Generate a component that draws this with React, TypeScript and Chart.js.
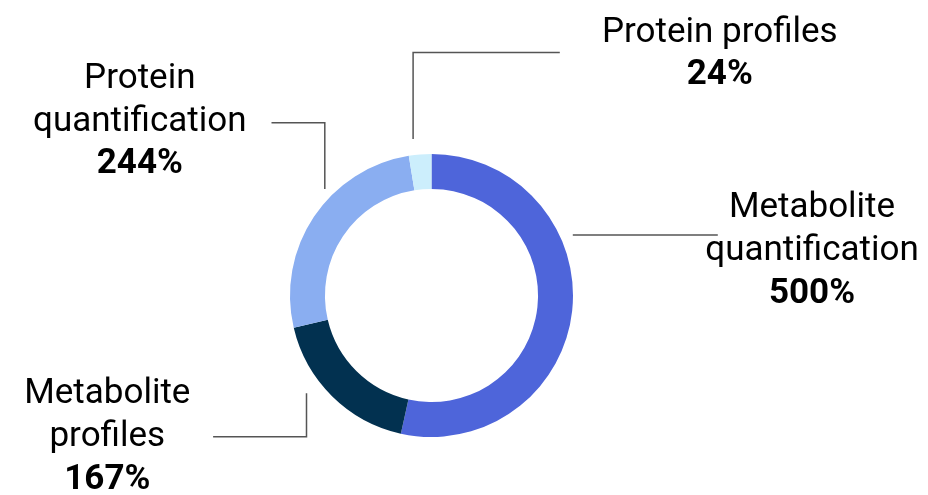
import React, { useEffect, useRef } from "react";
import { Chart, registerables } from "chart.js";

Chart.register(...registerables);

// Segment data
const categories = [
  "Metabolite quantification",
  "Metabolite profiles",
  "Protein quantification",
  "Protein profiles",
];
const values = [500, 167, 244, 24];
const colors = ["#4E65DA", "#023150", "#8AAEF1", "#CCEEFC"];

// Label text lines per segment (last line is the bold value)
const labelLines = [
  ["Metabolite", "quantification"],
  ["Metabolite", "profiles"],
  ["Protein", "quantification"],
  ["Protein profiles"],
];

// Leader line paths and label anchors, as offsets from the ring centre
const leaderPaths: number[][][] = [
  [[141.3, -60.5], [286.3, -60.5]],
  [[-125, 97.8], [-125, 141.2], [-218.4, 141.2]],
  [[-106.7, -106.5], [-106.7, -172.8], [-160, -172.8]],
  [[-18.4, -156.5], [-18.4, -243], [128.3, -243]],
];
// [centre x offset, first baseline y offset]
const labelAnchors: number[][] = [
  [380.5, -78.3],
  [-324.2, 107.8],
  [-291.7, -207.5],
  [288.3, -253.8],
];
const LINE_HEIGHT = 42.7;
const FONT_SIZE = 35;

const leaderLabels = {
  id: "leaderLabels",
  afterDraw(chart: any) {
    const arc = chart.getDatasetMeta(0).data[0];
    if (!arc) return;
    const cx = arc.x;
    const cy = arc.y;
    const ctx = chart.ctx;
    ctx.save();
    ctx.strokeStyle = "#555555";
    ctx.lineWidth = 1.5;
    leaderPaths.forEach((path) => {
      ctx.beginPath();
      path.forEach(([dx, dy], i) => {
        if (i === 0) ctx.moveTo(cx + dx, cy + dy);
        else ctx.lineTo(cx + dx, cy + dy);
      });
      ctx.stroke();
    });
    ctx.fillStyle = "#000000";
    ctx.textAlign = "center";
    ctx.textBaseline = "alphabetic";
    labelLines.forEach((lines, i) => {
      const [ax, ay] = labelAnchors[i];
      const x = cx + ax;
      ctx.font = `400 ${FONT_SIZE}px Roboto`;
      lines.forEach((t, j) => {
        ctx.fillText(t, x, cy + ay + j * LINE_HEIGHT);
      });
      ctx.font = `700 ${FONT_SIZE}px Roboto`;
      ctx.fillText(`${values[i]}%`, x, cy + ay + lines.length * LINE_HEIGHT);
    });
    ctx.restore();
  },
};

export default function App() {
  const canvasRef = useRef<HTMLCanvasElement | null>(null);

  useEffect(() => {
    if (!canvasRef.current) return;
    const chart = new Chart(canvasRef.current, {
      type: "doughnut",
      data: {
        labels: categories,
        datasets: [
          {
            data: values,
            backgroundColor: colors,
            borderWidth: 0,
          },
        ],
      },
      options: {
        animation: false,
        responsive: false,
        cutout: "75.3%",
        layout: {
          padding: { top: 154, bottom: 58, left: 290, right: 355 },
        },
        plugins: {
          legend: { display: false },
          tooltip: { enabled: false },
        },
      },
      plugins: [leaderLabels],
    });
    return () => chart.destroy();
  }, []);

  return (
    <div
      style={{
        position: "fixed",
        left: 0,
        top: 0,
        width: 928,
        height: 495,
        background: "#ffffff",
      }}
    >
      <canvas ref={canvasRef} width={928} height={495} />
    </div>
  );
}
